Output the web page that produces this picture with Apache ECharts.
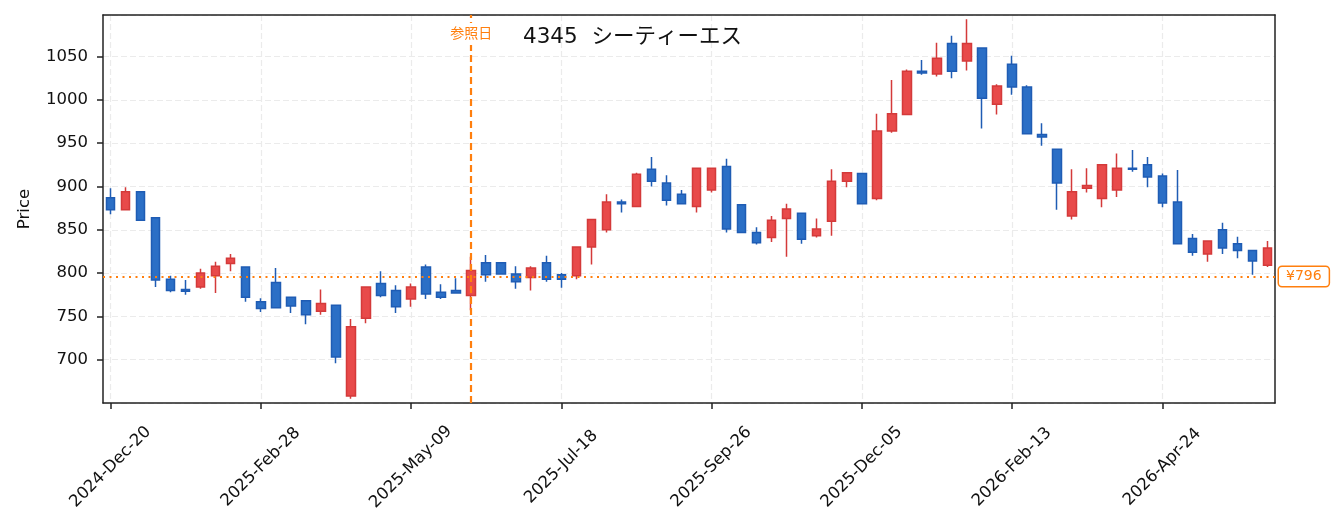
<!DOCTYPE html>
<html>
<head>
<meta charset="utf-8">
<script src="https://cdn.jsdelivr.net/npm/echarts@6/dist/echarts.min.js"></script>
<style>
  html, body { margin: 0; padding: 0; background: #fff; }
  #main { width: 1339px; height: 531px; }
</style>
</head>
<body>
<div id="main"></div>
<script>
// weekly bars (Friday)
var dates = [
  '2024-Dec-20', '2024-Dec-27',
  '2025-Jan-03', '2025-Jan-10', '2025-Jan-17', '2025-Jan-24', '2025-Jan-31',
  '2025-Feb-07', '2025-Feb-14', '2025-Feb-21', '2025-Feb-28',
  '2025-Mar-07', '2025-Mar-14', '2025-Mar-21', '2025-Mar-28',
  '2025-Apr-04', '2025-Apr-11', '2025-Apr-18', '2025-Apr-25',
  '2025-May-02', '2025-May-09', '2025-May-16', '2025-May-23', '2025-May-30',
  '2025-Jun-06', '2025-Jun-13', '2025-Jun-20', '2025-Jun-27',
  '2025-Jul-04', '2025-Jul-11', '2025-Jul-18', '2025-Jul-25',
  '2025-Aug-01', '2025-Aug-08', '2025-Aug-15', '2025-Aug-22', '2025-Aug-29',
  '2025-Sep-05', '2025-Sep-12', '2025-Sep-19', '2025-Sep-26',
  '2025-Oct-03', '2025-Oct-10', '2025-Oct-17', '2025-Oct-24', '2025-Oct-31',
  '2025-Nov-07', '2025-Nov-14', '2025-Nov-21', '2025-Nov-28',
  '2025-Dec-05', '2025-Dec-12', '2025-Dec-19', '2025-Dec-26',
  '2026-Jan-02', '2026-Jan-09', '2026-Jan-16', '2026-Jan-23', '2026-Jan-30',
  '2026-Feb-06', '2026-Feb-13', '2026-Feb-20', '2026-Feb-27',
  '2026-Mar-06', '2026-Mar-13', '2026-Mar-20', '2026-Mar-27',
  '2026-Apr-03', '2026-Apr-10', '2026-Apr-17', '2026-Apr-24',
  '2026-May-01', '2026-May-08', '2026-May-15', '2026-May-22', '2026-May-29',
  '2026-Jun-05', '2026-Jun-12'
];

var opens = [
  887, 873, 894, 864, 793, 781, 784, 797, 811, 807,
  767, 789, 772, 768, 756, 763, 658, 748, 788, 780,
  770, 807, 778, 780, 774, 812, 812, 799, 795, 812,
  798, 797, 830, 850, 882, 877, 920, 904, 891, 877,
  896, 923, 879, 847, 841, 863, 869, 843, 860, 906,
  915, 886, 964, 983, 1033, 1030, 1065, 1045, 1060, 995,
  1041, 1015, 960, 943, 866, 898, 886, 896, 921, 925,
  912, 882, 840, 822, 850, 834, 826, 809
];
var closes = [
  873, 894, 861, 792, 780, 779, 800, 808, 817, 772,
  759, 760, 762, 752, 765, 703, 738, 784, 774, 761,
  784, 776, 772, 777, 803, 798, 799, 790, 806, 793,
  793, 830, 862, 882, 880, 914, 906, 884, 880, 921,
  921, 851, 847, 835, 861, 874, 839, 851, 906, 916,
  880, 964, 984, 1033, 1031, 1048, 1033, 1065, 1002, 1016,
  1015, 961, 957, 904, 894, 901, 925, 921, 920, 911,
  881, 834, 824, 837, 829, 826, 814, 829
];
var lows = [
  868, 873, 861, 784, 778, 775, 782, 777, 802, 767,
  755, 759, 754, 741, 752, 696, 655, 742, 772, 754,
  761, 770, 770, 777, 757, 790, 799, 782, 780, 790,
  783, 793, 810, 847, 870, 877, 900, 878, 880, 870,
  893, 847, 847, 833, 836, 819, 834, 841, 843, 899,
  880, 884, 962, 983, 1029, 1027, 1025, 1034, 967, 983,
  1006, 961, 947, 873, 862, 893, 876, 888, 917, 899,
  876, 834, 820, 813, 822, 817, 798, 807
];
var highs = [
  898, 899, 894, 864, 797, 792, 805, 813, 822, 807,
  771, 806, 772, 768, 781, 763, 747, 784, 802, 786,
  788, 810, 787, 794, 819, 821, 812, 808, 808, 820,
  800, 830, 862, 891, 885, 916, 934, 913, 896, 921,
  921, 932, 879, 853, 866, 880, 869, 863, 920, 916,
  915, 984, 1023, 1035, 1046, 1066, 1074, 1093, 1060, 1018,
  1051, 1017, 973, 943, 920, 921, 925, 938, 942, 934,
  915, 919, 845, 838, 858, 842, 826, 837
];

var refIndex = 24;      // 参照日 = 2025-Jun-06
var refPrice = 796;

var orange = '#ff7f0e';
var font = "'DejaVu Sans', 'Noto Sans CJK JP', sans-serif";
var frame = { color: '#222', width: 1.5 };
var gridLine = { color: '#ebebeb', type: [6, 3], width: 1.2 };

var ohlc = [];
for (var i = 0; i < dates.length; i++) {
  ohlc.push([opens[i], closes[i], lows[i], highs[i]]);
}

function everyTen(idx) { return idx % 10 === 0; }

var myChart = echarts.init(document.getElementById('main'));

var option = {
  animation: false,
  backgroundColor: '#fff',
  textStyle: { fontFamily: font },
  title: {
    text: '4345  シーティーエス',
    left: 518,
    top: 22,
    textStyle: { fontFamily: font, fontSize: 21.5, fontWeight: 'normal', color: '#111' }
  },
  grid: { left: 103, right: 64, top: 15, bottom: 128 },
  xAxis: [{
    type: 'category',
    data: dates,
    boundaryGap: true,
    axisLine: { lineStyle: frame },
    axisTick: { show: true, alignWithLabel: true, interval: everyTen, length: 6, lineStyle: frame },
    axisLabel: {
      interval: everyTen, rotate: 45, align: 'center', verticalAlign: 'middle',
      margin: 64, fontSize: 16.5, color: '#111', fontFamily: font
    },
    splitLine: { show: true, alignWithLabel: true, interval: everyTen, lineStyle: gridLine }
  }, {
    // top spine
    type: 'category',
    data: dates,
    position: 'top',
    axisLine: { lineStyle: frame },
    axisTick: { show: false },
    axisLabel: { show: false },
    splitLine: { show: false }
  }],
  yAxis: [{
    type: 'value',
    min: 650,
    max: 1098,
    interval: 50,
    name: 'Price',
    nameLocation: 'middle',
    nameGap: 70,
    nameTextStyle: { fontSize: 16.5, color: '#111', fontFamily: font },
    axisLine: { show: true, lineStyle: frame },
    axisTick: { show: true, length: 6, lineStyle: frame },
    axisLabel: {
      fontSize: 16.5, color: '#111', fontFamily: font, margin: 15,
      showMinLabel: false, showMaxLabel: false,
      formatter: function (v) { return String(v); }
    },
    splitLine: { show: true, lineStyle: gridLine }
  }, {
    // right spine
    type: 'value',
    min: 650,
    max: 1098,
    position: 'right',
    axisLine: { show: true, lineStyle: frame },
    axisTick: { show: false },
    axisLabel: { show: false },
    splitLine: { show: false }
  }],
  series: [{
    type: 'candlestick',
    data: ohlc,
    barWidth: 9,
    itemStyle: {
      color: '#e84a4a',
      color0: '#2b6fc6',
      borderColor: '#d43a3a',
      borderColor0: '#1f5cb4',
      borderWidth: 1.5
    },
    markLine: {
      silent: true,
      symbol: 'none',
      animation: false,
      data: [
        {
          xAxis: refIndex,
          lineStyle: { color: orange, type: [7, 4], width: 2.2 },
          label: { show: false }
        },
        {
          yAxis: refPrice,
          lineStyle: { color: orange, type: [2, 4.5], width: 1.8 },
          label: {
            show: true,
            position: 'end',
            formatter: '¥' + refPrice,
            color: orange,
            fontSize: 14,
            fontFamily: font,
            backgroundColor: '#fff',
            borderColor: orange,
            borderWidth: 1.5,
            borderRadius: 3,
            padding: [3, 7, 2, 7],
            distance: 4
          }
        }
      ]
    },
    markPoint: {
      silent: true,
      symbol: 'rect',
      symbolSize: 1,
      itemStyle: { color: 'rgba(0,0,0,0)' },
      data: [{
        coord: [refIndex, 1076],
        label: {
          show: true, position: 'inside', formatter: '参照日',
          color: orange, fontSize: 14, fontFamily: font,
          backgroundColor: '#fff', padding: [4, 1]
        }
      }]
    }
  }]
};

myChart.setOption(option);
</script>
</body>
</html>
